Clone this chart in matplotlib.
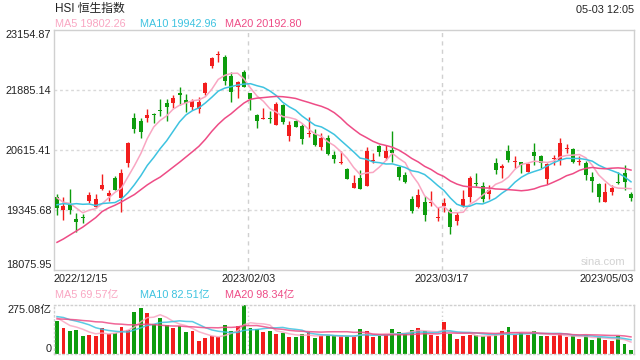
import numpy as np
import pandas as pd
import matplotlib
matplotlib.use("Agg")
import matplotlib.pyplot as plt

plt.rcParams["font.family"] = ["Liberation Sans", "Noto Sans CJK SC"]

# HSI daily candles, 2022/12/15 - 2023/05/03
opens = [19614, 19346, 19473, 19155, 19191, 19543, 19416, 19790, 19649, 20016,
         19593, 20333, 21286, 21236, 21300, 21377, 21462, 21603, 21617, 21829,
         21674, 21533, 21476, 21829, 22400, 22619, 22577, 22182, 21942, 22259,
         21815, 21356, 21279, 21293, 21152, 21568, 20919, 21229, 21123, 20954,
         20947, 20686, 20862, 20510, 20333, 20206, 19818, 20016, 19861, 20383,
         20700, 20446, 20616, 20263, 20086, 19579, 19416, 19522, 19501, 19184,
         19437, 19346, 19120, 19437, 19628, 19924, 19854, 19684, 20347, 20228,
         20594, 20369, 20355, 20157, 20573, 20489, 19995, 20418, 20404, 20637,
         20637, 20369, 20347, 20051, 19896, 19522, 19734, 19945, 20136, 19684]
highs = [19684, 19628, 19783, 19289, 19261, 19734, 19684, 20108, 19769, 20072,
         20206, 20792, 21406, 21286, 21476, 21391, 21688, 21688, 21780, 21942,
         21794, 21688, 21744, 22062, 22577, 22711, 22626, 22273, 22083, 22309,
         21829, 21370, 21511, 21441, 21638, 21589, 21236, 21250, 21159, 21307,
         21053, 20968, 20933, 20601, 20601, 20242, 20086, 20192, 20686, 20545,
         20721, 20721, 21018, 20277, 20157, 19642, 19790, 19642, 19748, 19402,
         19593, 19381, 19311, 19769, 20065, 20122, 19945, 19875, 20439, 20312,
         20721, 20489, 20369, 20333, 20757, 20510, 20347, 20510, 20877, 20742,
         20651, 20489, 20390, 20157, 19910, 19910, 19875, 20157, 20298, 19720]
lows = [19240, 19134, 19261, 18887, 19064, 19487, 19381, 19769, 19543, 19760,
        19311, 20249, 20968, 20862, 21215, 21194, 21335, 21236, 21497, 21568,
        21427, 21462, 21391, 21780, 22344, 22485, 21991, 21638, 21709, 21942,
        21462, 21088, 21265, 21180, 21145, 21159, 20806, 21095, 20736, 20898,
        20707, 20616, 20510, 20347, 20326, 19995, 19804, 19783, 19850, 20333,
        20489, 20404, 20369, 19981, 19910, 19289, 19395, 19120, 19437, 19113,
        19311, 18838, 19028, 19416, 19522, 19854, 19522, 19572, 20108, 20030,
        20369, 20228, 20122, 20143, 20298, 20242, 19889, 20298, 20298, 20559,
        20347, 20298, 19981, 19734, 19522, 19515, 19663, 19896, 19769, 19543]
closes = [19381, 19430, 19346, 19099, 19177, 19663, 19579, 19875, 19713, 19769,
          20122, 20757, 21053, 21003, 21356, 21349, 21448, 21533, 21709, 21772,
          21603, 21660, 21638, 22040, 22562, 22647, 22083, 21850, 22062, 21956,
          21688, 21236, 21293, 21279, 21589, 21215, 21138, 21109, 20841, 20975,
          20721, 20877, 20531, 20432, 20347, 20009, 19910, 19790, 20594, 20404,
          20580, 20594, 20559, 20051, 19945, 19332, 19663, 19240, 19515, 19198,
          19494, 18993, 19240, 19572, 20016, 19896, 19572, 19769, 20192, 20284,
          20404, 20383, 20298, 20319, 20489, 20333, 20319, 20439, 20757, 20651,
          20369, 20383, 20086, 19967, 19628, 19720, 19818, 19910, 19945, 19593]
# turnover in 亿
volumes = [185.9, 148.7, 126.4, 135.7, 98.5, 107.8, 98.5, 148.7, 111.5, 117.1,
           154.3, 135.7, 237.9, 260.2, 232.3, 167.3, 204.4, 163.6, 148.7, 158.0,
           120.8, 126.4, 70.6, 89.2, 102.2, 92.9, 163.6, 130.1, 159.8, 275.08,
           148.7, 141.3, 120.8, 126.4, 111.5, 115.2, 92.9, 92.9, 111.5, 120.8,
           89.2, 102.2, 104.1, 98.5, 98.5, 98.5, 92.9, 141.3, 130.1, 92.9,
           98.5, 107.8, 141.3, 122.7, 113.4, 135.7, 148.7, 130.1, 107.8, 102.2,
           182.1, 113.4, 85.5, 98.5, 107.8, 107.8, 98.5, 102.2, 107.8, 130.1,
           152.4, 107.8, 117.1, 104.1, 130.1, 102.2, 102.2, 102.2, 111.5, 92.9,
           98.5, 85.5, 107.8, 79.9, 92.9, 79.9, 74.3, 98.5, 57.6, 24.2]

# sessions before the window, only needed to seed the moving averages
prior_closes = [17993, 17656, 17424, 17524, 17660, 17573, 17297, 18204, 18597, 18736,
                19175, 19518, 18941, 19315, 19600, 19900, 19463, 19596, 19673]
prior_volumes = [170, 165, 180, 175, 160, 190, 175, 230, 210, 185,
                 200, 250, 215, 195, 220, 260, 235, 180, 159]

price_ticks = [18075.95, 19345.68, 20615.41, 21885.14, 23154.87]
volume_top = 275.08
date_labels = ["2022/12/15", "2023/02/03", "2023/03/17", "2023/05/03"]
date_index = [0, 30, 60, 89]

ma_windows = [5, 10, 20]
ma_price_text = ["19802.26", "19942.96", "20192.80"]
ma_volume_text = ["69.57亿", "82.51亿", "98.34亿"]

RED = "#f21d1d"
GREEN = "#0d9c0d"
MA_COLORS = ["#f9a6c2", "#3ec3e0", "#ee4c86"]
FRAME = "#d0d0d0"
W, H = 640, 360


def moving_average(prior, values, window):
    series = pd.Series(list(prior) + list(values), dtype=float)
    return series.rolling(window).mean().to_numpy()[len(prior):]


def px(x, y):
    return x / W, 1 - y / H


fig = plt.figure(figsize=(6.4, 3.6), dpi=100)
ax = fig.add_axes([54 / W, 1 - 270 / H, 580 / W, 240 / H])
vax = fig.add_axes([54 / W, 1 - 354 / H, 580 / W, 49 / H])

x = np.arange(len(closes))
o, h, l, c = map(np.asarray, (opens, highs, lows, closes))
colors = np.where(c >= o, RED, GREEN)
step = 574 / (len(x) - 1)
xlim = (-3 / step, len(x) - 1 + 3 / step)

# candles
ax.vlines(x, l, h, colors=colors, linewidth=1, zorder=2)
ax.bar(x, np.maximum(np.abs(c - o), 22), bottom=np.minimum(o, c), width=0.62,
       color=colors, linewidth=0, zorder=3)
for win, col in zip(ma_windows, MA_COLORS):
    ax.plot(x, moving_average(prior_closes, closes, win), color=col, lw=1.1, zorder=4)

ax.set_xlim(*xlim)
ax.set_ylim(price_ticks[0], price_ticks[-1])
for v in price_ticks[1:-1]:
    ax.axhline(v, color="#d9d9d9", lw=1, ls=(0, (2, 2)), zorder=1)
for i in date_index[1:-1]:
    ax.axvline(i - 0.35, color="#d0d0d0", lw=1, ls=(0, (3, 3)), zorder=1)
for s in ax.spines.values():
    s.set_color(FRAME)
    s.set_linewidth(1)

ax.set_yticks(price_ticks)
ax.set_yticklabels([f"{v:.2f}" for v in price_ticks])
ylabels = ax.get_yticklabels()
ylabels[0].set_va("bottom")
ylabels[-1].set_va("top")
ax.set_xticks([xlim[0]] + [i - 0.35 for i in date_index[1:-1]] + [xlim[1]])
ax.set_xticklabels(date_labels)
xlabels = ax.get_xticklabels()
xlabels[0].set_ha("left")
xlabels[-1].set_ha("right")
ax.tick_params(axis="both", length=0, labelsize=7.8, colors="#222222")
ax.tick_params(axis="y", pad=2)
ax.tick_params(axis="x", pad=3)
ax.text(0.985, 0.035, "sina.com", transform=ax.transAxes, ha="right", va="center",
        color="#d2d2d2", fontsize=8)

# volume
vax.bar(x, volumes, width=0.6, color=colors, linewidth=0, zorder=2)
for win, col in zip(ma_windows, MA_COLORS):
    vax.plot(x, moving_average(prior_volumes, volumes, win), color=col, lw=1.1,
             alpha=0.85, zorder=3)
vax.set_xlim(*xlim)
vax.set_ylim(0, volume_top)
vax.set_xticks([])
vax.set_yticks([0, volume_top])
vax.set_yticklabels(["0", f"{volume_top:.2f}亿"])
vlabels = vax.get_yticklabels()
vlabels[0].set_va("bottom")
vlabels[-1].set_va("top")
vax.tick_params(axis="y", length=0, pad=2, labelsize=7.8, colors="#222222")
for i in date_index[1:-1]:
    vax.axvline(i - 0.35, color="#d0d0d0", lw=1, ls=(0, (1, 2)), zorder=1)
for name, s in vax.spines.items():
    s.set_color(FRAME)
    s.set_linewidth(1)
    if name != "right":
        s.set_linestyle((0, (1, 2)))

# header texts
fig.text(*px(55, 9), "HSI 恒生指数", fontsize=8.5, color="#222222", va="center")
fig.text(*px(634, 10), "05-03 12:05", fontsize=7.8, color="#222222", va="center", ha="right")
for xpos, win, col, p_txt, v_txt in zip([55, 140, 225], ma_windows, MA_COLORS,
                                         ma_price_text, ma_volume_text):
    fig.text(*px(xpos, 24), f"MA{win} {p_txt}", fontsize=7.8, color=col, va="center")
    fig.text(*px(xpos, 295), f"MA{win} {v_txt}", fontsize=7.8, color=col, va="center")

fig.savefig("out.png", dpi=100)
